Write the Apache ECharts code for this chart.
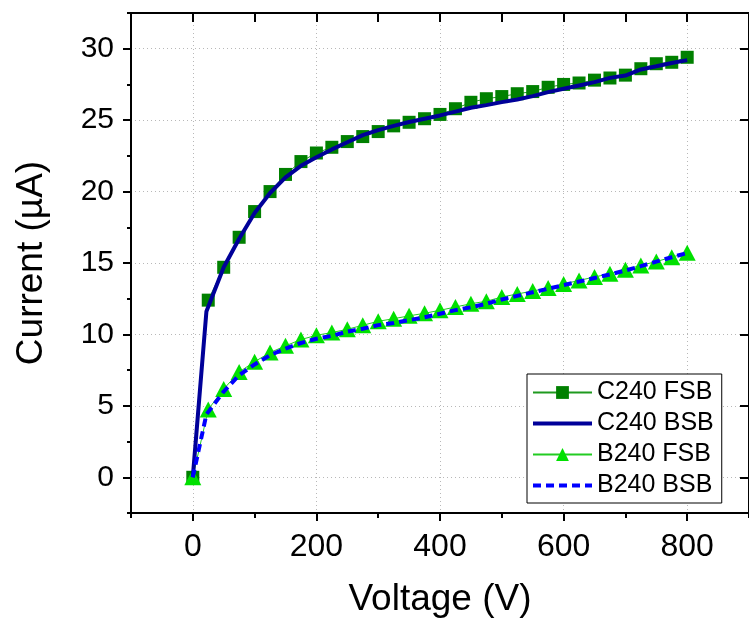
<!DOCTYPE html>
<html><head><meta charset="utf-8">
<script src="https://cdn.jsdelivr.net/npm/echarts@6/dist/echarts.min.js"></script>
<style>html,body{margin:0;padding:0;background:#fff}#c{width:749px;height:623px}</style>
</head><body><div id="c"></div>
<script>
// ---- data ----
const fsbVoltage = [0,25,50,75,100,125,150,175,200,225,250,275,300,325,350,375,400,425,450,475,500,525,550,575,600,625,650,675,700,725,750,775,800];
const bsbVoltage = [0,22,50,75,100,125,150,175,200,225,250,275,300,325,350,375,400,425,450,475,500,525,550,575,600,625,650,675,700,725,750,775,800];
const c240FSB = [0,12.4,14.7,16.8,18.6,20.0,21.2,22.1,22.7,23.1,23.5,23.85,24.2,24.6,24.85,25.1,25.4,25.8,26.25,26.5,26.65,26.85,27.0,27.3,27.5,27.6,27.8,27.95,28.15,28.6,28.95,29.05,29.4];
const c240BSB = [0,11.6,14.7,16.7,18.5,19.9,21.0,21.8,22.4,22.95,23.45,23.95,24.3,24.6,24.87,25.1,25.33,25.6,25.87,26.05,26.26,26.45,26.68,26.96,27.2,27.43,27.66,27.96,28.12,28.55,28.77,29.0,29.2];
const b240FSB = [0,4.75,6.18,7.37,8.09,8.73,9.2,9.64,9.94,10.13,10.36,10.64,10.92,11.1,11.3,11.48,11.69,11.92,12.15,12.32,12.62,12.83,13.04,13.25,13.53,13.78,14.02,14.25,14.53,14.83,15.1,15.41,15.71];
const b240BSB = [0,4.4,6.0,7.15,7.9,8.55,9.0,9.4,9.7,9.9,10.2,10.4,10.65,10.8,11.0,11.2,11.45,11.7,11.9,12.15,12.45,12.7,12.95,13.2,13.45,13.7,13.95,14.2,14.48,14.78,15.1,15.4,15.7];
const seriesNames = ['C240 FSB','C240 BSB','B240 FSB','B240 BSB'];
const xMajorTicks = [0,200,400,600,800];
const xMinorTicks = [-100,100,300,500,700,900];
const yMajorTicks = [0,5,10,15,20,25,30];
const yMinorTicks = [-2.5,2.5,7.5,12.5,17.5,22.5,27.5,32.5];
const xTitle = 'Voltage (V)';
const yTitle = 'Current (µA)';

const pair = (xs, ys) => xs.map((x, i) => [x, ys[i]]);
const FONT = 'Liberation Sans, Arial, sans-serif';
const axisLine = {show: true, onZero: false, lineStyle: {color: '#000', width: 2}};
const noLine = {show: false, onZero: false};
const grid = {show: true, lineStyle: {color: '#b8b8b8', width: 1, type: [1, 3]}};

const chart = echarts.init(document.getElementById('c'), null, {renderer: 'canvas'});
chart.setOption({
  animation: false,
  backgroundColor: '#fff',
  textStyle: {fontFamily: FONT},
  grid: {left: 131, right: -6, top: 13, bottom: 108, containLabel: false},
  xAxis: [
    {type: 'value', position: 'bottom', min: -100, max: 900, interval: 100,
     axisLine: axisLine,
     axisTick: {show: true, inside: false, length: 8, customValues: xMajorTicks, lineStyle: {color: '#000', width: 2}},
     axisLabel: {show: true, customValues: xMajorTicks, margin: 18, fontSize: 32, color: '#000', fontFamily: FONT,
                 formatter: v => (v % 200 === 0 && v >= 0 && v <= 800) ? String(v) : ''},
     splitLine: grid,
     name: xTitle, nameLocation: 'middle', nameGap: 68,
     nameTextStyle: {fontSize: 37, color: '#000', fontFamily: FONT}},
    {type: 'value', position: 'bottom', min: -100, max: 900, interval: 100,
     axisLine: noLine,
     axisTick: {show: true, inside: false, length: 5, customValues: xMinorTicks, lineStyle: {color: '#000', width: 2}},
     axisLabel: {show: false}, splitLine: {show: false}},
    {type: 'value', position: 'top', min: -100, max: 900, interval: 100,
     axisLine: axisLine,
     axisTick: {show: true, inside: true, length: 9, lineStyle: {color: '#000', width: 2}},
     axisLabel: {show: false}, splitLine: {show: false}}
  ],
  yAxis: [
    {type: 'value', position: 'left', min: -2.5, max: 32.5, interval: 2.5,
     axisLine: axisLine,
     axisTick: {show: true, inside: false, length: 8, customValues: yMajorTicks, lineStyle: {color: '#000', width: 2}},
     axisLabel: {show: true, customValues: yMajorTicks, margin: 17, fontSize: 30, color: '#000', fontFamily: FONT,
                 formatter: v => (v % 5 === 0 && v >= 0) ? String(v) : ''},
     splitLine: grid,
     name: yTitle, nameLocation: 'middle', nameGap: 81, nameRotate: 90,
     nameTextStyle: {fontSize: 37, color: '#000', fontFamily: FONT}},
    {type: 'value', position: 'left', min: -2.5, max: 32.5, interval: 2.5,
     axisLine: noLine,
     axisTick: {show: true, inside: false, length: 4, customValues: yMinorTicks, lineStyle: {color: '#000', width: 2}},
     axisLabel: {show: false}, splitLine: {show: false}},
    {type: 'value', position: 'right', min: -2.5, max: 32.5, interval: 2.5,
     axisLine: axisLine,
     axisTick: {show: true, inside: true, length: 9, customValues: yMajorTicks, lineStyle: {color: '#000', width: 2}},
     axisLabel: {show: false}, splitLine: {show: false}}
  ],
  legend: {
    orient: 'vertical', left: 527, top: 374,
    data: [
      {name: seriesNames[0]},
      {name: seriesNames[1], itemStyle: {opacity: 0}, lineStyle: {width: 4}},
      {name: seriesNames[2]},
      {name: seriesNames[3], itemStyle: {opacity: 0}, lineStyle: {width: 4, type: [8, 5]}}
    ],
    itemWidth: 59, itemHeight: 16, itemGap: 6,
    padding: [6, 8, 5, 4],
    borderColor: '#000', borderWidth: 1, backgroundColor: '#fff',
    textStyle: {fontSize: 25, color: '#000', fontFamily: FONT}
  },
  series: [
    {name: seriesNames[0], type: 'line', z: 2, data: pair(fsbVoltage, c240FSB),
     symbol: 'rect', symbolSize: 13, showAllSymbol: true,
     itemStyle: {color: '#008000'}, lineStyle: {color: '#1f9a1f', width: 1}},
    {name: seriesNames[1], type: 'line', z: 4, data: pair(bsbVoltage, c240BSB),
     symbol: 'none', showSymbol: false,
     itemStyle: {color: '#000099'}, lineStyle: {color: '#000099', width: 4}},
    {name: seriesNames[2], type: 'line', z: 3, data: pair(fsbVoltage, b240FSB),
     symbol: 'triangle', symbolSize: [17, 16], showAllSymbol: true,
     itemStyle: {color: '#00e000'}, lineStyle: {color: '#22cc22', width: 1}},
    {name: seriesNames[3], type: 'line', z: 5, data: pair(bsbVoltage, b240BSB),
     symbol: 'none', showSymbol: false,
     itemStyle: {color: '#0000ff'}, lineStyle: {color: '#0000ff', width: 4, type: [8, 5], cap: 'butt'}}
  ]
});
</script></body></html>
